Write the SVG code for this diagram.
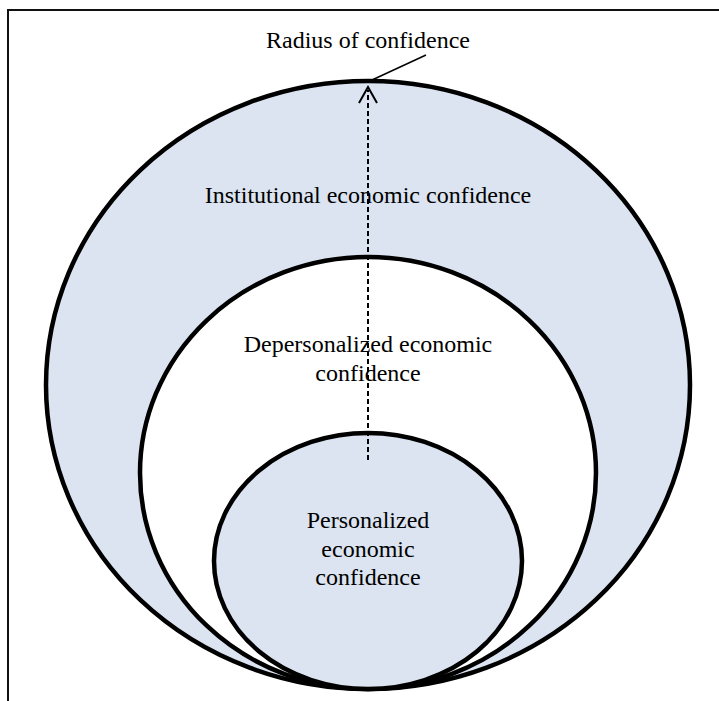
<svg xmlns="http://www.w3.org/2000/svg" width="719" height="701" viewBox="0 0 719 701">
<style>
.ring{stroke:#000;stroke-width:4.5}
.blue{fill:#dbe4f0}
.white{fill:#fff}
.lbl{font-family:"Liberation Serif","Times New Roman",serif;font-size:24px;fill:#000;text-anchor:middle}
.frame{stroke:#111;stroke-width:2;fill:none}
</style>
<rect width="719" height="701" fill="#fff"/>
<path class="frame" d="M8,701 V10 H719"/>
<g id="institutional">
<ellipse class="ring blue" cx="368" cy="385" rx="322" ry="304"/>
<text class="lbl" x="368" y="203">Institutional economic confidence</text>
</g>
<g id="depersonalized">
<ellipse class="ring white" cx="368" cy="473" rx="228" ry="216"/>
<text class="lbl" x="368" y="352">Depersonalized economic</text>
<text class="lbl" x="368" y="381">confidence</text>
</g>
<g id="personalized">
<ellipse class="ring blue" cx="368" cy="561" rx="154" ry="128"/>
<text class="lbl" x="368" y="528">Personalized</text>
<text class="lbl" x="368" y="557">economic</text>
<text class="lbl" x="368" y="585">confidence</text>
</g>
<g id="radius">
<text class="lbl" x="368" y="48">Radius of confidence</text>
</g>
<g id="connectors" fill="none" stroke="#000">
<line x1="368" y1="460" x2="368" y2="90" stroke-width="2" stroke-dasharray="5,3"/>
<polyline points="359,103 368,87 377,103" stroke-width="2"/>
<line x1="372" y1="80" x2="426" y2="55" stroke-width="1.5"/>
</g>
</svg>
